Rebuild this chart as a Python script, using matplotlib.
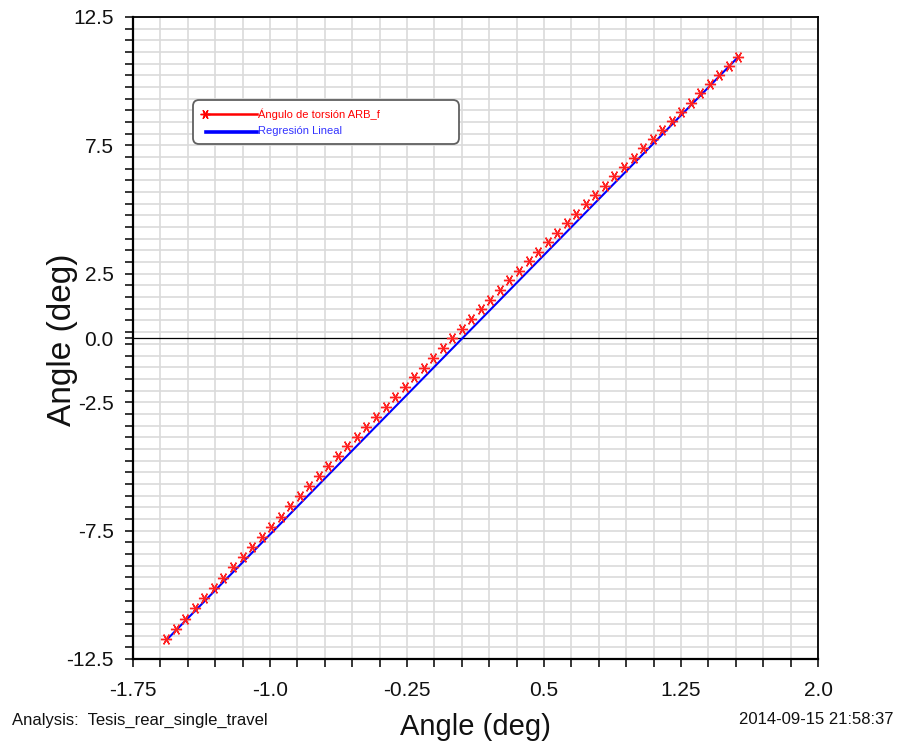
#!/usr/bin/env python3

import matplotlib
matplotlib.use("Agg")
import matplotlib.pyplot as plt
from matplotlib.lines import Line2D
from matplotlib.patches import FancyBboxPatch
import numpy as np

FONT = ["Liberation Sans", "DejaVu Sans"]

W, H = 897, 754

# torsion angle samples
torsion_x = [
    -1.568, -1.516, -1.464, -1.412, -1.360, -1.307, -1.255, -1.203, -1.150, -1.098,
    -1.046, -0.994, -0.942, -0.889, -0.837, -0.785, -0.733, -0.681, -0.628, -0.576,
    -0.524, -0.472, -0.420, -0.367, -0.315, -0.263, -0.211, -0.159, -0.106, -0.054,
    -0.002, 0.050, 0.102, 0.155, 0.207, 0.259, 0.311, 0.363, 0.416, 0.468,
    0.520, 0.572, 0.624, 0.677, 0.729, 0.781, 0.833, 0.885, 0.938, 0.990,
    1.042, 1.094, 1.146, 1.199, 1.251, 1.303, 1.355, 1.407, 1.460, 1.512,
    1.564,
]
torsion_y = [
    -11.73, -11.33, -10.93, -10.53, -10.13, -9.73, -9.33, -8.93, -8.53, -8.14,
    -7.74, -7.35, -6.96, -6.56, -6.17, -5.78, -5.39, -5.00, -4.61, -4.22,
    -3.84, -3.45, -3.07, -2.68, -2.30, -1.92, -1.53, -1.16, -0.77, -0.39,
    -0.01, 0.36, 0.74, 1.12, 1.49, 1.87, 2.24, 2.61, 2.98, 3.35,
    3.72, 4.09, 4.46, 4.83, 5.20, 5.56, 5.92, 6.29, 6.65, 7.02,
    7.38, 7.74, 8.10, 8.46, 8.82, 9.17, 9.53, 9.88, 10.24, 10.60,
    10.95,
]

# linear regression line end points
reg_x = [-1.568, 1.564]
reg_y = [-11.77, 10.95]

x_ticks = [-1.75, -1.0, -0.25, 0.5, 1.25, 2.0]
x_labels = ["-1.75", "-1.0", "-0.25", "0.5", "1.25", "2.0"]
y_ticks = [-12.5, -7.5, -2.5, 0.0, 2.5, 7.5, 12.5]
y_labels = ["-12.5", "-7.5", "-2.5", "0.0", "2.5", "7.5", "12.5"]

series_label = "Ángulo de torsión ARB_f"
reg_label = "Regresión Lineal"


def fx(px):
    return px / W


def fy(py):
    return 1 - py / H


fig = plt.figure(figsize=(W / 100, H / 100), dpi=100)
ax = fig.add_axes([fx(133), fy(659), (818 - 133) / W, (659 - 17) / H])

ax.set_xlim(-1.75, 2.0)
ax.set_ylim(-12.5, 12.5)

x_minor = np.linspace(-1.75, 2.0, 26)
y_minor = np.linspace(-12.5, 12.5, 56)
ax.set_xticks(x_minor, minor=True)
ax.set_yticks(y_minor, minor=True)
ax.set_xticks(x_ticks)
ax.set_xticklabels(x_labels)
ax.set_yticks(y_ticks)
ax.set_yticklabels(y_labels)

for v in x_minor:
    ax.axvline(v, color="#dadada", lw=1.2, zorder=0)
for v in y_minor:
    ax.axhline(v, color="#dadada", lw=1.2, zorder=0)
ax.axhline(0.0, color="black", lw=0.9, zorder=1)

ax.tick_params(which="both", direction="out", length=6, width=1.1, color="black")
ax.tick_params(axis="y", which="major", pad=8)
ax.tick_params(axis="x", which="major", pad=10)
for lab in ax.get_xticklabels() + ax.get_yticklabels():
    lab.set_family(FONT)
    lab.set_fontsize(15)
    lab.set_color("#111111")

for side in ["left", "bottom"]:
    ax.spines[side].set_linewidth(1.6)
for side in ["top", "right"]:
    ax.spines[side].set_linewidth(1.3)

ax.plot(reg_x, reg_y, color="#0000ff", lw=1.5, zorder=3)
ax.plot(torsion_x, torsion_y, ls="none", marker=(6, 2, 90), ms=8,
        mec="#ff2020", mew=1.0, zorder=4)

# legend box
box = FancyBboxPatch((1.93, (H - 144) / 100), 2.66, 0.44,
                     boxstyle="round,pad=0,rounding_size=0.06",
                     transform=fig.dpi_scale_trans, fc="white",
                     ec="#606060", lw=1.3, zorder=10)
fig.add_artist(box)
fig.add_artist(Line2D([2.04, 2.57], [(H - 114) / 100] * 2, transform=fig.dpi_scale_trans,
                      color="#ff0000", lw=1.8, zorder=11))
fig.add_artist(Line2D([2.05], [(H - 114) / 100], transform=fig.dpi_scale_trans,
                      ls="none", marker=(6, 2, 90), ms=7, mec="#ff0000", mew=1.0, zorder=11))
fig.add_artist(Line2D([2.06, 2.57], [(H - 131.5) / 100] * 2, transform=fig.dpi_scale_trans,
                      color="#0000ff", lw=2.6, zorder=11))
fig.text(fx(258), fy(114), series_label, color="#ff0000", family=FONT,
         fontsize=8.0, va="center", ha="left", zorder=12)
fig.text(fx(258), fy(131), reg_label, color="#3333ff", family=FONT,
         fontsize=8.0, va="center", ha="left", zorder=12)

# axis titles
fig.text(fx(475), fy(727), "Angle (deg)", family=FONT, fontsize=21,
         ha="center", va="center", color="#111111")
fig.text(fx(62), fy(340), "Angle (deg)", family=FONT, fontsize=24,
         rotation=90, ha="center", va="center", color="#111111")

fig.text(fx(12), fy(720), "Analysis:  Tesis_rear_single_travel", family=FONT,
         fontsize=12, ha="left", va="center", color="#111111")
fig.text(fx(893), fy(720), "2014-09-15 21:58:37", family=FONT,
         fontsize=12, ha="right", va="center", color="#111111")

fig.savefig("out.png", dpi=100)
